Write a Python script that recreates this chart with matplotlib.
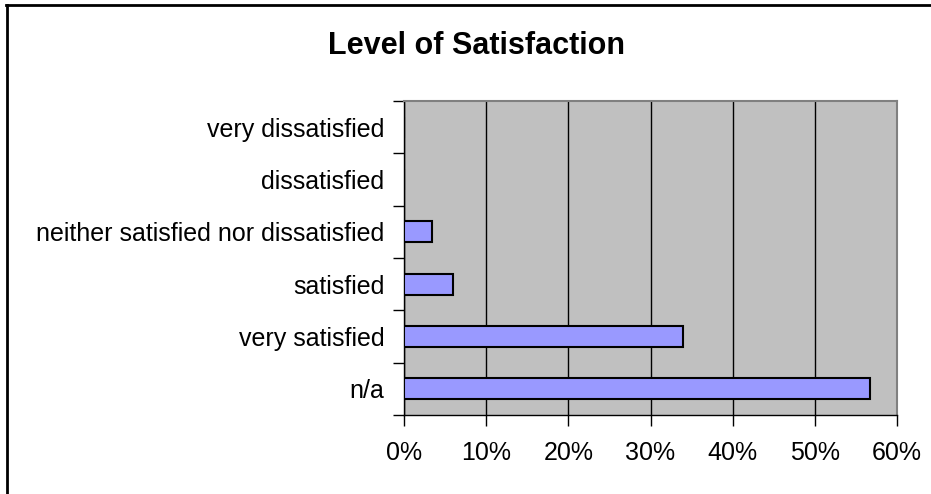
import numpy as np
import matplotlib
matplotlib.use("Agg")
import matplotlib.pyplot as plt
from matplotlib.lines import Line2D

plt.rcParams['font.family'] = ['Liberation Sans', 'DejaVu Sans']

# bottom to top
categories = ["n/a", "very satisfied", "satisfied",
              "neither satisfied nor dissatisfied", "dissatisfied",
              "very dissatisfied"]
percent = [56.7, 33.9, 6.0, 3.4, 0, 0]
xticks = [0, 10, 20, 30, 40, 50, 60]

fig = plt.figure(figsize=(9.31, 4.94), dpi=100)
ax = fig.add_axes([404/931, 1 - 415/494, (897 - 404)/931, (415 - 101)/494])
ax.set_facecolor("#C0C0C0")

y = np.arange(len(categories))
ax.barh(y, percent, height=0.4, color="#9999FF", edgecolor="black",
        linewidth=1.5, zorder=3)

ax.set_xlim(0, 60)
ax.set_ylim(-0.5, len(categories) - 0.5)
ax.set_xticks(xticks)
ax.set_xticklabels([f"{t}%" for t in xticks], fontsize=18)
ax.xaxis.grid(True, color="black", linewidth=1.0, zorder=1)
ax.set_axisbelow(True)

# category labels centred, ticks on the boundaries
ax.set_yticks(y)
ax.set_yticklabels(categories, fontsize=18)
ax.tick_params(axis="y", which="major", length=0, pad=14)
ax.set_yticks(np.arange(-0.5, len(categories)), minor=True)
ax.tick_params(axis="y", which="minor", length=8, width=1, color="black")
ax.tick_params(axis="x", length=8, width=1, pad=11)

for side in ("top", "right"):
    ax.spines[side].set_color("#808080")
    ax.spines[side].set_linewidth(1.5)
for side in ("left", "bottom"):
    ax.spines[side].set_color("black")
    ax.spines[side].set_linewidth(1.0)

fig.text(476/931, 1 - 46/494, "Level of Satisfaction", fontsize=22,
         fontweight="bold", ha="center", va="center")

# outer frame (top and left edges visible)
fig.add_artist(Line2D([6/931, 1], [1 - 5/494, 1 - 5/494], color="black",
                      linewidth=2, transform=fig.transFigure))
fig.add_artist(Line2D([7/931, 7/931], [0, 1 - 5/494], color="black",
                      linewidth=2, transform=fig.transFigure))

fig.savefig("out.png", dpi=100)
